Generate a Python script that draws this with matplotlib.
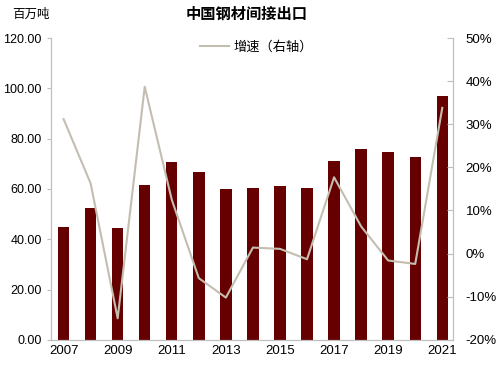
import matplotlib.pyplot as plt
import matplotlib.ticker as mticker

plt.rcParams['font.family'] = ['Liberation Sans', 'Noto Sans CJK SC', 'DejaVu Sans']

# 数据
years = list(range(2007, 2022))
exports = [45.0, 52.3, 44.5, 61.6, 70.6, 66.6, 59.9, 60.5, 61.2, 60.3,
           71.0, 75.8, 74.6, 72.6, 96.9]           # 百万吨
growth = [31.2, 16.3, -15.0, 38.7, 12.5, -5.7, -10.2, 1.4, 1.1, -1.3,
          17.7, 6.3, -1.6, -2.4, 33.8]             # %
xtick_years = list(range(2007, 2022, 2))

fig = plt.figure(figsize=(4.99, 3.69), dpi=100)
ax = fig.add_axes([0.103, 0.079, 0.805, 0.818])
ax2 = ax.twinx()

ax.bar(years, exports, width=0.42, color='#660000', zorder=2)
ax2.plot(years, growth, color='#C4BEB0', lw=1.5, label='增速（右轴）', zorder=3)

ax.set_xlim(2006.55, 2021.4)
ax.set_ylim(0, 120)
ax.set_yticks(range(0, 121, 20))
ax.yaxis.set_major_formatter(mticker.FormatStrFormatter('%.2f'))
ax.set_xticks(xtick_years)
ax.set_xticklabels([str(y) for y in xtick_years])

ax2.set_ylim(-20, 50)
ax2.set_yticks(range(-20, 51, 10))
ax2.yaxis.set_major_formatter(mticker.FuncFormatter(lambda v, p: '%d%%' % v))

gray = '#BFBFBF'
for a in (ax, ax2):
    a.spines['top'].set_visible(False)
    for s in ('left', 'right', 'bottom'):
        a.spines[s].set_color(gray)
    a.tick_params(labelsize=9.5, colors=gray, labelcolor='black')
ax.tick_params(axis='x', length=0, pad=4)
ax.tick_params(axis='y', length=3, direction='out', pad=4, labelsize=9)
ax2.tick_params(axis='y', length=4, direction='in', pad=9)

ax.text(0.495, 0.962, '中国钢材间接出口', transform=fig.transFigure,
        ha='center', va='center', fontsize=11, fontweight='bold',
        family=['Noto Sans CJK SC'])
ax.text(0.025, 0.962, '百万吨', transform=fig.transFigure,
        ha='left', va='center', fontsize=9, family=['Noto Sans CJK SC'])

ax2.legend(loc='upper center', bbox_to_anchor=(0.51, 1.03), frameon=False,
           handlelength=2.2, handletextpad=0.3,
           prop={'family': ['Noto Sans CJK SC'], 'size': 9.5})

fig.savefig('out.png', dpi=100)
